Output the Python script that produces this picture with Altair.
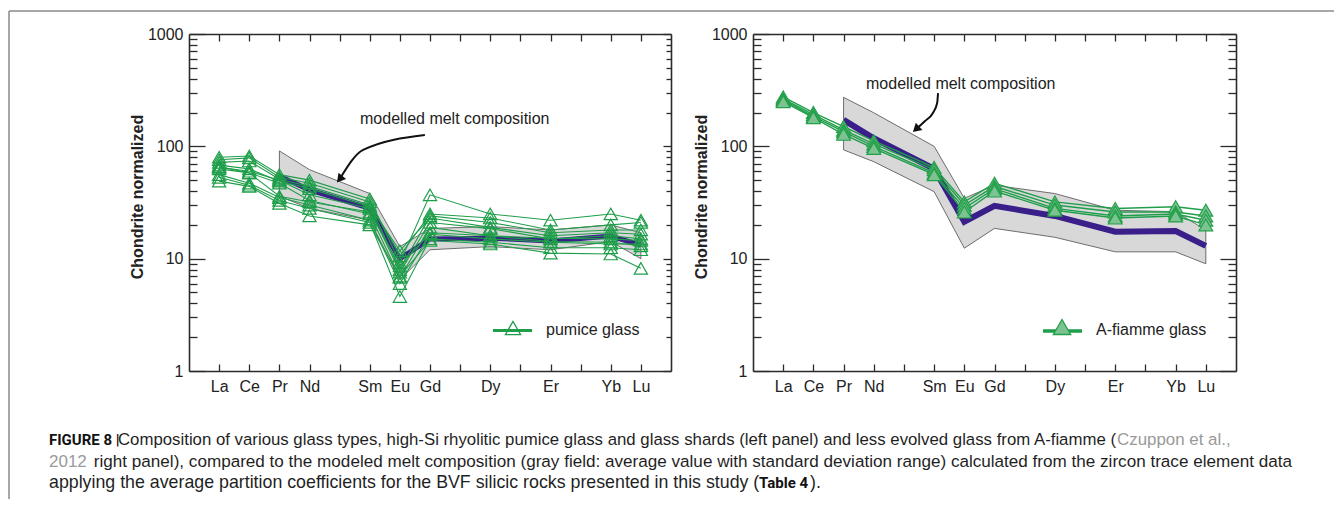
import altair as alt
import pandas as pd

# ---------------- data ----------------
REE = ["La", "Ce", "Pr", "Nd", "Pm", "Sm", "Eu", "Gd", "Tb", "Dy", "Ho", "Er", "Tm", "Yb", "Lu"]
GLASS_ELEMENTS = ["La", "Ce", "Pr", "Nd", "Sm", "Eu", "Gd", "Dy", "Er", "Yb", "Lu"]
MODEL_ELEMENTS = ["Pr", "Nd", "Sm", "Eu", "Gd", "Dy", "Er", "Yb", "Lu"]

# left panel: pumice glass (chondrite normalized)
pumice_1 = [80, 82, 56, 50, 34, 9.2, 37, 25, 22, 25, 22]
pumice_2 = [76, 79, 53, 47, 32, 10.6, 25, 23, 18, 20, 21]
pumice_3 = [72, 74, 51, 44, 30, 8.0, 24, 21, 17, 18, 18]
pumice_4 = [68, 63, 49, 42, 29, 11.8, 23, 19, 16, 17, 16.5]
pumice_5 = [65, 60, 50, 37, 28, 7.6, 21, 18.5, 15, 16, 15]
pumice_6 = [63, 58, 47, 33, 25, 6.8, 19, 16, 15.2, 15, 14.5]
pumice_7 = [56, 47, 35, 30, 22, 6.0, 16.5, 15, 14, 13.5, 13.5]
pumice_8 = [53, 45, 33, 28, 21, 4.6, 15, 14, 12.5, 12.5, 12]
pumice_9 = [49, 44, 31, 24, 20, 7.0, 14.5, 13.5, 11.2, 11, 8.2]
pumice_10 = [66, 58, 36, 32, 26, 8.6, 17, 16, 14.2, 14, 13]

left_model_mean = [54, 41, 28, 10, 15, 15.2, 14.4, 15.9, 13.2]
left_model_upper = [91, 62, 38, 12.8, 18.6, 19.3, 18, 20, 17]
left_model_lower = [36, 28, 22, 6.5, 12, 12.8, 12, 14.2, 10]

# right panel: A-fiamme glass
fiamme_1 = [275, 200, 150, 112, 65, 32, 47, 32, 28, 29, 27]
fiamme_2 = [265, 192, 140, 105, 62, 30, 44, 30, 26, 26, 24]
fiamme_3 = [258, 185, 135, 100, 58, 28, 42, 28, 24, 25, 22]
fiamme_4 = [250, 180, 128, 96, 56, 26, 40, 27, 23, 24, 20]

right_model_mean = [172, 118, 63, 21.3, 29.5, 24, 17.4, 17.6, 13]
right_model_upper = [273, 199, 100, 34.5, 45, 38, 27, 26.2, 18]
right_model_lower = [93, 73, 39.5, 12.4, 18.6, 15.5, 11.5, 11.5, 9]

# annotation arrows (data coordinates: REE index, chondrite normalized)
arrow_left_x = [7.83, 5.78, 5.0]
arrow_left_y = [126, 93, 51]
arrow_right_x = [6.13, 6.10, 5.96, 5.70, 5.40]
arrow_right_y = [298, 243, 198, 168, 142]

annotation_text = "modelled melt composition"
legend_left = "pumice glass"
legend_right = "A-fiamme glass"
y_title = "Chondrite normalized"

caption_1a = "FIGURE 8 |"
caption_1b = ("Composition of various glass types, high-Si rhyolitic pumice glass and glass shards "
              "(left panel) and less evolved glass from A-fiamme (")
caption_1c = "Czuppon et al.,"
caption_2a = "2012"
caption_2b = ("right panel), compared to the modeled melt composition (gray field: average value "
              "with standard deviation range) calculated from the zircon trace element data")
caption_3a = "applying the average partition coefficients for the BVF silicic rocks presented in this study ("
caption_3b = "Table 4"
caption_3c = ")."

# ---------------- layout / style ----------------
W, H = 1326, 491
YTOP, YBOT = 26, 363
PANELS = {"left": (181, 663), "right": (745, 1228)}
FONT = "Liberation Sans"
AXC = "#2b2b2b"
GREEN = "#1f9e4a"
PURPLE = "#3a1f8a"
FILL = "#d8d8d8"
ONE = pd.DataFrame({"k": [0]})


def pos(el):
    return REE.index(el) + 1


def xs(p):
    return alt.Scale(domain=[0, 16], range=list(PANELS[p]), nice=False, zero=False)


def ys():
    return alt.Scale(type="log", domain=[1, 1000], range=[YBOT, YTOP], nice=False)


def X(p, field="pos"):
    return alt.X(f"{field}:Q", scale=xs(p), axis=None, title="")


def Y(field="v"):
    return alt.Y(f"{field}:Q", scale=ys(), axis=None, title="")


def glass_df(series):
    rows = []
    for i, s in enumerate(series):
        for el, val in zip(GLASS_ELEMENTS, s):
            rows.append({"series": f"s{i+1}", "pos": pos(el), "v": val})
    return pd.DataFrame(rows)


def model_df(mean, upper, lower):
    return pd.DataFrame({"pos": [pos(e) for e in MODEL_ELEMENTS], "mean": mean, "upper": upper, "lower": lower})


def axis_layer(p, ch, **kw):
    base = dict(grid=False, labelFont=FONT, titleFont=FONT)
    base.update(kw)
    ax = alt.Axis(**base)
    d = pd.DataFrame({"pos": [8.0], "v": [10.0]})
    x = alt.X("pos:Q", scale=xs(p), axis=ax if ch == "x" else None, title="")
    y = alt.Y("v:Q", scale=ys(), axis=ax if ch == "y" else None, title="")
    return alt.Chart(d).mark_point(opacity=0).encode(x=x, y=y)


def panel_axes(p, rmaj, rmin):
    L, R = PANELS[p]
    xlab = "['','La','Ce','Pr','Nd','','Sm','Eu','Gd','','Dy','','Er','','Yb','Lu',''][datum.value]"
    t15 = list(range(1, 16))
    major = [1, 10, 100, 1000]
    minor = [m * 10 ** k for k in range(3) for m in range(2, 10)]
    tk = dict(labels=False, tickColor=AXC, tickWidth=1.3, domainColor=AXC, domainWidth=1.6)
    return [
        axis_layer(p, "x", orient="bottom", offset=YBOT - H, values=t15, labelExpr=xlab, ticks=False,
                   tickSize=0, domain=False, labelPadding=7, labelFontSize=16, labelColor="#222",
                   labelOverlap=False, labelFlush=False),
        axis_layer(p, "x", orient="top", offset=-YBOT, values=t15, tickSize=7, **tk),
        axis_layer(p, "x", orient="bottom", offset=YTOP - H, values=t15, tickSize=7, **tk),
        axis_layer(p, "y", orient="left", offset=-L, values=major, format="d", ticks=False, tickSize=0,
                   domain=False, labelPadding=6, labelFontSize=16, labelColor="#222", labelOverlap=False,
                   title=y_title, titleFontSize=16, titleFontWeight="bold", titleColor="#222",
                   titleX=-52, titleY=188.5, titleAngle=270, titleAlign="center", titleBaseline="middle"),
        axis_layer(p, "y", orient="right", offset=L - W, values=major, tickSize=16, **tk),
        axis_layer(p, "y", orient="right", offset=L - W, values=minor, tickSize=8, domain=False,
                   labels=False, tickColor=AXC, tickWidth=1.3),
        axis_layer(p, "y", orient="left", offset=-R, values=major, tickSize=rmaj, **tk),
        axis_layer(p, "y", orient="left", offset=-R, values=minor, tickSize=rmin, domain=False,
                   labels=False, tickColor=AXC, tickWidth=1.3),
    ]


def text_layer(txt, x, y, size=16, weight="normal", color="#222", font=FONT, baseline="alphabetic",
               align="left"):
    return alt.Chart(ONE).mark_text(text=txt, align=align, baseline=baseline, fontSize=size,
                                    fontWeight=weight, color=color, font=font).encode(
        x=alt.value(x), y=alt.value(y))


def arrow_layers(p, ax, ay, angle):
    d = pd.DataFrame({"pos": ax, "v": ay, "i": list(range(len(ax)))})
    line = alt.Chart(d).mark_line(color="#111", strokeWidth=2, interpolate="monotone").encode(
        x=X(p), y=Y(), order="i:O")
    head = alt.Chart(d.tail(1)).mark_point(shape="triangle-up", filled=True, color="#111", size=95,
                                           angle=angle, opacity=1).encode(x=X(p), y=Y())
    return [line, head]


layers = []

# ---------- left panel ----------
mL = model_df(left_model_mean, left_model_upper, left_model_lower)
gL = glass_df([pumice_1, pumice_2, pumice_3, pumice_4, pumice_5, pumice_6, pumice_7, pumice_8,
               pumice_9, pumice_10])
layers += [
    alt.Chart(mL).mark_area(fill=FILL, stroke="#4d4d4d", strokeWidth=0.8, opacity=1).encode(
        x=X("left"), y=Y("upper"), y2="lower:Q"),
    alt.Chart(mL).mark_line(color=PURPLE, strokeWidth=5).encode(x=X("left"), y=Y("mean")),
    alt.Chart(gL).mark_line(color=GREEN, strokeWidth=1.1).encode(x=X("left"), y=Y(), detail="series:N"),
    alt.Chart(gL).mark_point(shape="triangle-up", filled=False, size=175, color=GREEN, strokeWidth=1.2,
                             opacity=1).encode(x=X("left"), y=Y()),
]
layers += arrow_layers("left", arrow_left_x, arrow_left_y, 219)
layers += [
    text_layer(annotation_text, 352, 116),
    alt.Chart(ONE).mark_rule(color=GREEN, strokeWidth=3).encode(
        x=alt.value(485), x2=alt.value(524), y=alt.value(322.5)),
    alt.Chart(ONE).mark_point(shape="triangle-up", filled=False, size=230, color=GREEN, strokeWidth=1.3,
                              opacity=1, fill="white", fillOpacity=0).encode(x=alt.value(505), y=alt.value(320)),
    text_layer(legend_left, 538, 322, baseline="middle"),
]
layers += panel_axes("left", 8, 5)

# ---------- right panel ----------
mR = model_df(right_model_mean, right_model_upper, right_model_lower)
gR = glass_df([fiamme_1, fiamme_2, fiamme_3, fiamme_4])
layers += [
    alt.Chart(mR).mark_area(fill=FILL, stroke="#4d4d4d", strokeWidth=0.8, opacity=1).encode(
        x=X("right"), y=Y("upper"), y2="lower:Q"),
    alt.Chart(mR).mark_line(color=PURPLE, strokeWidth=6).encode(x=X("right"), y=Y("mean")),
    alt.Chart(gR).mark_line(color=GREEN, strokeWidth=1.4).encode(x=X("right"), y=Y(), detail="series:N"),
    alt.Chart(gR).mark_point(shape="triangle-up", filled=True, size=190, fill="#7dc291", stroke="#23a04a",
                             strokeWidth=1.2, opacity=1).encode(x=X("right"), y=Y()),
]
layers += arrow_layers("right", arrow_right_x, arrow_right_y, 227)
layers += [
    text_layer(annotation_text, 858, 81),
    alt.Chart(ONE).mark_rule(color=GREEN, strokeWidth=3.5).encode(
        x=alt.value(1035), x2=alt.value(1074), y=alt.value(323)),
    alt.Chart(ONE).mark_point(shape="triangle-up", filled=True, size=300, fill="#7dc291", stroke="#23a04a",
                              strokeWidth=1.3, opacity=1).encode(x=alt.value(1054), y=alt.value(319)),
    text_layer(legend_right, 1088, 322, baseline="middle"),
]
layers += panel_axes("right", 16, 8)

# ---------- frame & caption ----------
TXT = "#1f1f1f"
layers += [
    alt.Chart(ONE).mark_rule(color="#8a8a8a", strokeWidth=1.5).encode(
        x=alt.value(1), x2=alt.value(W), y=alt.value(3)),
    alt.Chart(ONE).mark_rule(color="#8a8a8a", strokeWidth=1.5).encode(
        x=alt.value(1), y=alt.value(3), y2=alt.value(H)),
    text_layer(caption_1a, 41, 437, size=15, weight="bold", color="#111", font="Roboto"),
    text_layer(caption_1b, 110, 437, size=16.8, color=TXT),
    text_layer(caption_1c, 1109, 437, size=16.9, color="#9a9a9a"),
    text_layer(caption_2a, 41, 458.5, size=17, color="#9a9a9a"),
    text_layer(caption_2b, 1284, 458.5, size=17.1, color=TXT, align="right"),
    text_layer(caption_3a, 41, 479.5, size=17.8, color=TXT),
    text_layer(caption_3b, 751, 479.5, size=15, weight="bold", color="#111", font="Roboto"),
    text_layer(caption_3c, 802, 479.5, size=17.8, color=TXT),
]

chart = alt.layer(*layers).resolve_scale(x="independent", y="independent").properties(
    width=W, height=H, padding=0, autosize=alt.AutoSizeParams(type="none"), background="white"
).configure_view(strokeWidth=0)

chart.save("out.html", embed_options={"renderer": "svg", "actions": False})
